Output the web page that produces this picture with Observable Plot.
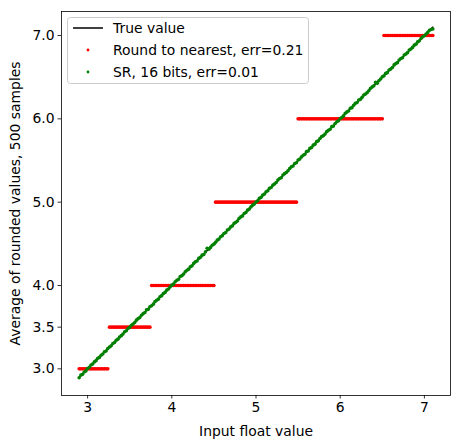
<!DOCTYPE html>
<html><head><meta charset="utf-8">
<script src="https://cdn.jsdelivr.net/npm/d3@7"></script>
<script src="https://cdn.jsdelivr.net/npm/@observablehq/plot@0.6"></script>
<style>body{margin:0;background:#fff}</style>
</head><body><div id="chart"></div>
<script>
const xs = [
2.90,2.92,2.94,2.96,2.98,3.00,3.02,3.04,3.06,3.08,
3.10,3.12,3.14,3.16,3.18,3.20,3.22,3.24,3.26,3.28,
3.30,3.32,3.34,3.36,3.38,3.40,3.42,3.44,3.46,3.48,
3.50,3.52,3.54,3.56,3.58,3.60,3.62,3.64,3.66,3.68,
3.70,3.72,3.74,3.76,3.78,3.80,3.82,3.84,3.86,3.88,
3.90,3.92,3.94,3.96,3.98,4.00,4.02,4.04,4.06,4.08,
4.10,4.12,4.14,4.16,4.18,4.20,4.22,4.24,4.26,4.28,
4.30,4.32,4.34,4.36,4.38,4.40,4.42,4.44,4.46,4.48,
4.50,4.52,4.54,4.56,4.58,4.60,4.62,4.64,4.66,4.68,
4.70,4.72,4.74,4.76,4.78,4.80,4.82,4.84,4.86,4.88,
4.90,4.92,4.94,4.96,4.98,5.00,5.02,5.04,5.06,5.08,
5.10,5.12,5.14,5.16,5.18,5.20,5.22,5.24,5.26,5.28,
5.30,5.32,5.34,5.36,5.38,5.40,5.42,5.44,5.46,5.48,
5.50,5.52,5.54,5.56,5.58,5.60,5.62,5.64,5.66,5.68,
5.70,5.72,5.74,5.76,5.78,5.80,5.82,5.84,5.86,5.88,
5.90,5.92,5.94,5.96,5.98,6.00,6.02,6.04,6.06,6.08,
6.10,6.12,6.14,6.16,6.18,6.20,6.22,6.24,6.26,6.28,
6.30,6.32,6.34,6.36,6.38,6.40,6.42,6.44,6.46,6.48,
6.50,6.52,6.54,6.56,6.58,6.60,6.62,6.64,6.66,6.68,
6.70,6.72,6.74,6.76,6.78,6.80,6.82,6.84,6.86,6.88,
6.90,6.92,6.94,6.96,6.98,7.00,7.02,7.04,7.06,7.08,
7.10];

const roundNearest = [
3,3,3,3,3,3,3,3,3,3,
3,3,3,3,3,3,3,3,3.5,3.5,
3.5,3.5,3.5,3.5,3.5,3.5,3.5,3.5,3.5,3.5,
3.5,3.5,3.5,3.5,3.5,3.5,3.5,3.5,3.5,3.5,
3.5,3.5,3.5,4,4,4,4,4,4,4,
4,4,4,4,4,4,4,4,4,4,
4,4,4,4,4,4,4,4,4,4,
4,4,4,4,4,4,4,4,4,4,
4,5,5,5,5,5,5,5,5,5,
5,5,5,5,5,5,5,5,5,5,
5,5,5,5,5,5,5,5,5,5,
5,5,5,5,5,5,5,5,5,5,
5,5,5,5,5,5,5,5,5,5,
6,6,6,6,6,6,6,6,6,6,
6,6,6,6,6,6,6,6,6,6,
6,6,6,6,6,6,6,6,6,6,
6,6,6,6,6,6,6,6,6,6,
6,6,6,6,6,6,6,6,6,6,
6,7,7,7,7,7,7,7,7,7,
7,7,7,7,7,7,7,7,7,7,
7,7,7,7,7,7,7,7,7,7,
7];

const stochastic16 = [
2.893,2.925,2.934,2.962,2.975,3.004,3.019,3.046,3.057,3.083,
3.098,3.126,3.137,3.163,3.178,3.205,3.214,3.243,3.262,3.276,
3.304,3.316,3.342,3.356,3.382,3.398,3.417,3.445,3.457,3.484,
3.497,3.523,3.538,3.556,3.584,3.603,3.615,3.643,3.662,3.676,
3.708,3.714,3.745,3.757,3.776,3.806,3.822,3.836,3.865,3.878,
3.903,3.917,3.944,3.958,3.983,4.004,4.016,4.045,4.063,4.074,
4.108,4.118,4.137,4.165,4.183,4.196,4.224,4.236,4.265,4.284,
4.294,4.325,4.338,4.364,4.372,4.404,4.447,4.436,4.457,4.483,
4.496,4.518,4.544,4.557,4.585,4.598,4.624,4.636,4.666,4.677,
4.703,4.716,4.745,4.758,4.774,4.806,4.823,4.835,4.864,4.876,
4.904,4.917,4.943,4.964,4.978,5.002,5.017,5.046,5.057,5.085,
5.097,5.124,5.137,5.166,5.176,5.204,5.218,5.236,5.265,5.284,
5.293,5.326,5.342,5.356,5.377,5.403,5.424,5.434,5.464,5.473,
5.506,5.517,5.543,5.562,5.574,5.607,5.614,5.645,5.656,5.684,
5.696,5.726,5.736,5.764,5.788,5.798,5.817,5.846,5.862,5.875,
5.906,5.913,5.944,5.965,5.977,6.004,6.018,6.035,6.066,6.083,
6.094,6.127,6.134,6.163,6.186,6.195,6.226,6.234,6.258,6.286,
6.297,6.314,6.337,6.366,6.383,6.396,6.437,6.426,6.457,6.478,
6.504,6.516,6.545,6.554,6.586,6.597,6.616,6.647,6.663,6.674,
6.706,6.724,6.733,6.766,6.777,6.794,6.826,6.838,6.857,6.884,
6.896,6.923,6.936,6.964,6.984,6.997,7.018,7.037,7.063,7.072,
7.078];

const xTicks = [3, 4, 5, 6, 7];
const yTicks = [3.0, 3.5, 4.0, 5.0, 6.0, 7.0];
const legendLabels = ["True value", "Round to nearest, err=0.21", "SR, 16 bits, err=0.01"];
const colors = {truth: "black", rn: "red", sr: "green"};

const rows = xs.map((x, i) => ({x, truth: x, rn: roundNearest[i], sr: stochastic16[i]}));

const font = "DejaVu Sans";
const fs = 13.9;
const dotR = 1.8;

const chart = Plot.plot({
  width: 458, height: 448,
  marginLeft: 61, marginRight: 8, marginTop: 11, marginBottom: 53,
  style: {fontFamily: font, fontSize: fs + "px", color: "black", background: "white", overflow: "visible"},
  x: {domain: [2.69, 7.31]},
  y: {domain: [2.68, 7.288]},
  marks: [
    Plot.line(rows, {x: "x", y: "truth", stroke: colors.truth, strokeWidth: 1.5}),
    Plot.dot(rows, {x: "x", y: "rn", r: dotR, fill: colors.rn, stroke: null}),
    Plot.dot(rows, {x: "x", y: "sr", r: dotR, fill: colors.sr, stroke: null}),
    Plot.frame({stroke: "black", strokeWidth: 0.8}),
    Plot.axisX({ticks: xTicks, tickFormat: "d", tickSize: 3.5, tickPadding: 3.5, strokeWidth: 0.8,
      label: "Input float value", labelAnchor: "center", labelArrow: "none", labelOffset: 40}),
    Plot.axisY({ticks: yTicks, tickFormat: ".1f", tickSize: 3.5, tickPadding: 3.5, strokeWidth: 0.8,
      label: "Average of rounded values, 500 samples", labelAnchor: "center", labelArrow: "none", labelOffset: 51})
  ]
});
document.getElementById("chart").appendChild(chart);

// legend inside the axes, upper left
const svg = d3.select(chart);
const lg = svg.append("g").attr("font-family", font).attr("font-size", fs).attr("text-anchor", "start");
lg.append("rect").attr("x", 67.5).attr("y", 17.5).attr("width", 241).attr("height", 66)
  .attr("rx", 3).attr("fill", "white").attr("fill-opacity", 0.8).attr("stroke", "#cccccc").attr("stroke-width", 1);
const rowY = [28, 50, 72];
lg.append("line").attr("x1", 73).attr("x2", 103).attr("y1", rowY[0]).attr("y2", rowY[0])
  .attr("stroke", colors.truth).attr("stroke-width", 1.5);
lg.append("circle").attr("cx", 88).attr("cy", rowY[1]).attr("r", 1.4).attr("fill", colors.rn);
lg.append("circle").attr("cx", 88).attr("cy", rowY[2]).attr("r", 1.4).attr("fill", colors.sr);
legendLabels.forEach((t, i) => {
  lg.append("text").attr("x", 113).attr("y", rowY[i]).attr("dy", "0.36em").attr("fill", "black")
    .attr("text-anchor", "start").text(t);
});
</script>
</body></html>
